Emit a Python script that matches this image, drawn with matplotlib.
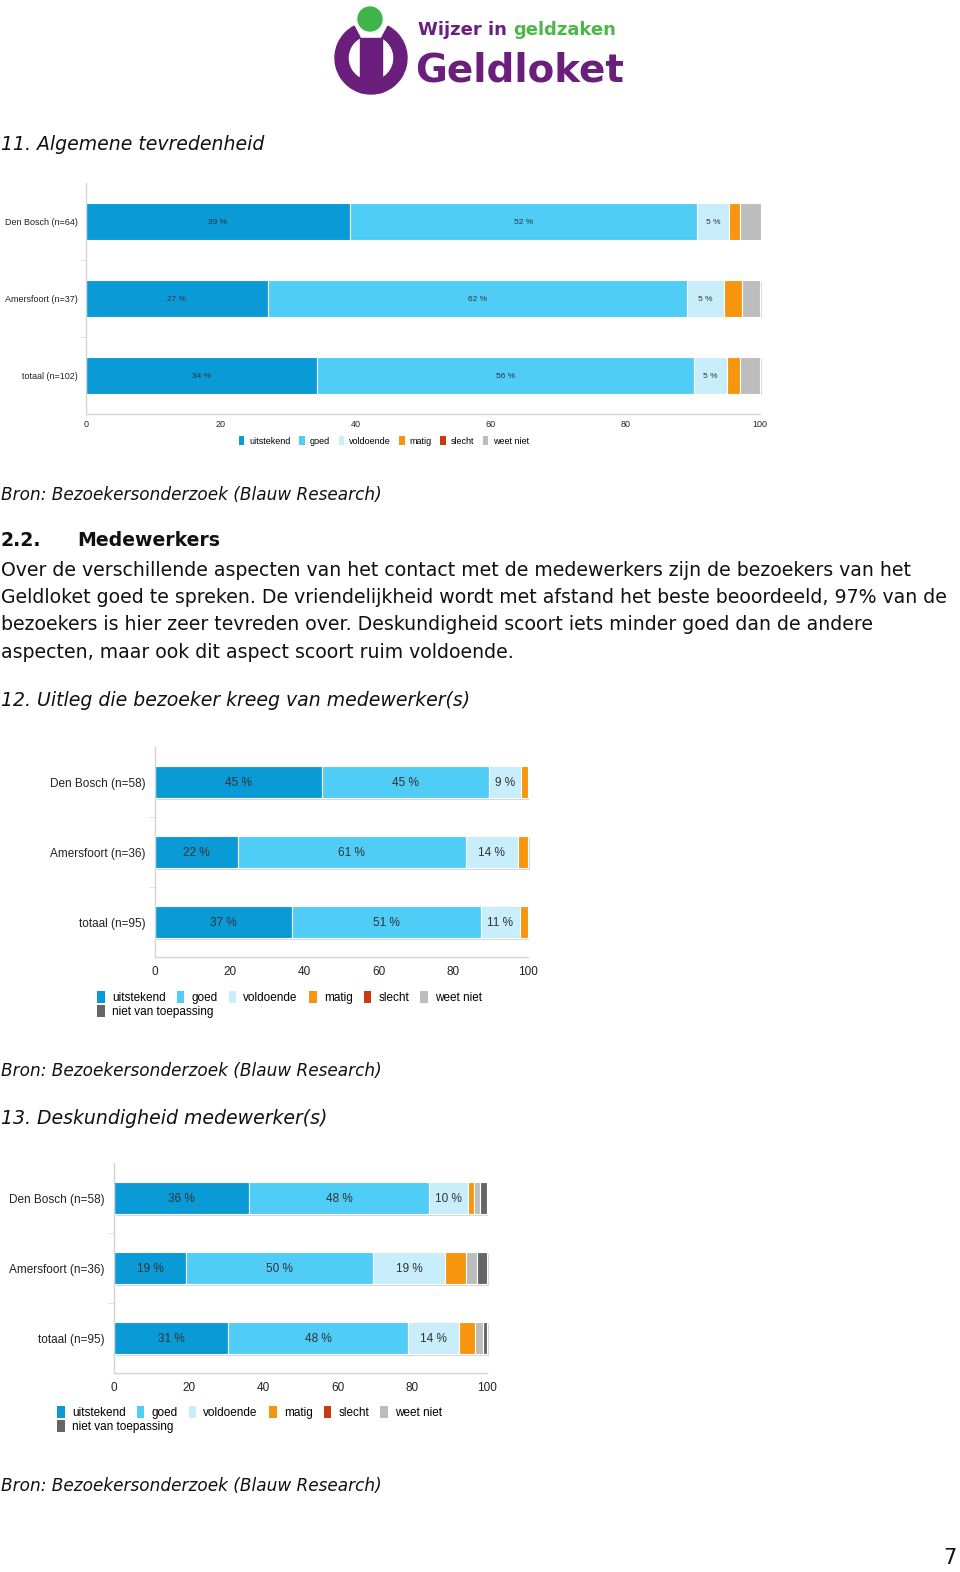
import numpy as np
import matplotlib
matplotlib.use("Agg")
import matplotlib.pyplot as plt
from matplotlib.patches import Patch, Wedge, Circle, Rectangle
import matplotlib.patheffects as pe

W, H = 960, 1572

# --- data -------------------------------------------------------------
legend_labels = ["uitstekend", "goed", "voldoende", "matig", "slecht", "weet niet",
                 "niet van toepassing"]
colors = ["#0a9ad6", "#4fcdf7", "#c8edfb", "#f7960e", "#c83a10", "#bdbdbd", "#666666"]

# 11. Algemene tevredenheid
cats1 = ["Den Bosch (n=64)", "Amersfoort (n=37)", "totaal (n=102)"]
ch1_uitstekend = [39.1, 27.0, 34.3]
ch1_goed = [51.6, 62.2, 55.9]
ch1_voldoende = [4.7, 5.4, 4.9]
ch1_matig = [1.6, 2.7, 2.0]
ch1_slecht = [0, 0, 0]
ch1_weetniet = [3.1, 2.7, 2.9]

# 12. Uitleg die bezoeker kreeg van medewerker(s)
cats2 = ["Den Bosch (n=58)", "Amersfoort (n=36)", "totaal (n=95)"]
ch2_uitstekend = [44.8, 22.2, 36.8]
ch2_goed = [44.8, 61.1, 50.5]
ch2_voldoende = [8.6, 13.9, 10.5]
ch2_matig = [1.7, 2.8, 2.1]
ch2_slecht = [0, 0, 0]
ch2_weetniet = [0, 0, 0]
ch2_nvt = [0, 0, 0]

# 13. Deskundigheid medewerker(s)
cats3 = ["Den Bosch (n=58)", "Amersfoort (n=36)", "totaal (n=95)"]
ch3_uitstekend = [36.2, 19.4, 30.5]
ch3_goed = [48.3, 50.0, 48.4]
ch3_voldoende = [10.3, 19.4, 13.7]
ch3_matig = [1.7, 5.6, 4.2]
ch3_slecht = [0, 0, 0]
ch3_weetniet = [1.7, 2.8, 2.1]
ch3_nvt = [1.7, 2.8, 1.1]

paragraph = [
    "Over de verschillende aspecten van het contact met de medewerkers zijn de bezoekers van het",
    "Geldloket goed te spreken. De vriendelijkheid wordt met afstand het beste beoordeeld, 97% van de",
    "bezoekers is hier zeer tevreden over. Deskundigheid scoort iets minder goed dan de andere",
    "aspecten, maar ook dit aspect scoort ruim voldoende.",
]

fig = plt.figure(figsize=(W / 100, H / 100), dpi=100)
fig.patch.set_facecolor("white")


def px_axes(x0, y0, x1, y1):
    return fig.add_axes([x0 / W, 1 - y1 / H, (x1 - x0) / W, (y1 - y0) / H])


def ftext(x, y, s, **kw):
    kw.setdefault("va", "center")
    kw.setdefault("color", "#111111")
    fig.text(x / W, 1 - y / H, s, **kw)


def stacked_chart(ax, cats, series, bar_h, lab_fs, tick_fs, ypad, xpad):
    y = np.arange(len(cats))
    left = np.zeros(len(cats))
    shadow = [pe.SimplePatchShadow(offset=(1.2, -1.2), shadow_rgbFace="#888888", alpha=0.35),
              pe.Normal()]
    for i, vals in enumerate(series):
        vals = np.array(vals, dtype=float)
        for yi, l, v in zip(y, left, vals):
            if v <= 0:
                continue
            b = ax.barh(yi, v, left=l, height=bar_h, color=colors[i],
                        edgecolor="white", linewidth=0.8, clip_on=False)
            b[0].set_path_effects(shadow)
            if i < 3:
                ax.text(l + v / 2, yi, f"{int(v + 0.5)} %", ha="center", va="center_baseline",
                        fontsize=lab_fs, color="#333333", family="Liberation Sans")
        left += vals
    ax.set_xlim(0, 100)
    ax.set_ylim(len(cats) - 0.5, -0.5)
    ax.set_yticks(y)
    ax.set_yticklabels(cats, family="Liberation Sans", fontsize=tick_fs, color="#222222")
    ax.set_yticks([0.5, 1.5], minor=True)
    ax.set_xticks(np.arange(0, 101, 20))
    ax.set_xticklabels([str(v) for v in range(0, 101, 20)], family="Liberation Sans",
                       fontsize=tick_fs, color="#222222")
    ax.tick_params(axis="y", which="major", length=0, pad=ypad)
    ax.tick_params(axis="y", which="minor", length=4, color="#dddddd")
    ax.tick_params(axis="x", length=0, pad=xpad)
    for s in ["top", "right"]:
        ax.spines[s].set_visible(False)
    for s in ["left", "bottom"]:
        ax.spines[s].set_color("#d4d4d4")
        ax.spines[s].set_linewidth(1.0)


def chart_legend(x, y, fs, ncol_gap):
    prop = {"family": "Liberation Sans", "size": fs}
    opts = dict(loc="upper left", frameon=False, prop=prop, handlelength=0.65,
                handleheight=1.2, columnspacing=ncol_gap, handletextpad=0.6, borderpad=0,
                borderaxespad=0)
    row1 = [Patch(facecolor=c, label=l) for c, l in zip(colors[:6], legend_labels[:6])]
    row2 = [Patch(facecolor=colors[6], label=legend_labels[6])]
    fig.legend(handles=row1, bbox_to_anchor=(x / W, 1 - y / H), ncol=6, **opts)
    fig.legend(handles=row2, bbox_to_anchor=(x / W, 1 - (y + 14) / H), ncol=1, **opts)


# --- logo -------------------------------------------------------------
lax = px_axes(330, 0, 630, 100)
lax.set_xlim(330, 630)
lax.set_ylim(100, 0)
lax.axis("off")
purple = "#6b1f7c"
lax.add_patch(Wedge((371, 58), 36, -62, 242, width=13, color=purple))
lax.add_patch(Rectangle((360, 38), 22, 54, color=purple))
lax.add_patch(Circle((370, 19), 12, color="#3fb449"))
lax.text(418, 30, "Wijzer in", fontsize=13, fontweight="bold", color=purple,
         va="center", ha="left")
lax.text(616, 30, "geldzaken", fontsize=13, fontweight="bold", color="#4cb848",
         va="center", ha="right")
lax.text(415, 70, "Geldloket", fontsize=28, fontweight="bold", color=purple,
         va="center", ha="left")

# --- texts ------------------------------------------------------------
body = dict(family="DejaVu Sans", fontsize=13.6)
bron = dict(family="DejaVu Sans", fontsize=12.2, style="italic")
ftext(1, 145, "11. Algemene tevredenheid", style="italic", **body)
ftext(1, 495, "Bron: Bezoekersonderzoek (Blauw Research)", **bron)
ftext(1, 541, "2.2.", fontweight="bold", **body)
ftext(77, 541, "Medewerkers", fontweight="bold", **body)
for k, line in enumerate(paragraph):
    ftext(1, 570 + k * 27.5, line, **body)
ftext(1, 701, "12. Uitleg die bezoeker kreeg van medewerker(s)", style="italic", **body)
ftext(1, 1071, "Bron: Bezoekersonderzoek (Blauw Research)", **bron)
ftext(1, 1119, "13. Deskundigheid medewerker(s)", style="italic", **body)
ftext(1, 1486, "Bron: Bezoekersonderzoek (Blauw Research)", **bron)
ftext(943, 1558, "7", family="DejaVu Sans", fontsize=15)

# --- chart 1 ----------------------------------------------------------
ax1 = px_axes(86, 183, 760, 414)
stacked_chart(ax1, cats1,
              [ch1_uitstekend, ch1_goed, ch1_voldoende, ch1_matig, ch1_slecht, ch1_weetniet],
              0.47, 6, 6.5, 6, 4.5)
h1 = [Patch(facecolor=c, label=l) for c, l in zip(colors[:6], legend_labels[:6])]
fig.legend(handles=h1, loc="center", bbox_to_anchor=(384 / W, 1 - 441 / H), ncol=6,
           frameon=False, prop={"family": "Liberation Sans", "size": 6.5},
           handlelength=0.6, handleheight=1.2, columnspacing=1.0, handletextpad=0.5)

# --- chart 2 ----------------------------------------------------------
ax2 = px_axes(155, 747, 528, 957)
stacked_chart(ax2, cats2,
              [ch2_uitstekend, ch2_goed, ch2_voldoende, ch2_matig, ch2_slecht, ch2_weetniet,
               ch2_nvt],
              0.47, 8.5, 8.5, 7, 6.5)
chart_legend(97, 991, 8.5, 0.95)

# --- chart 3 ----------------------------------------------------------
ax3 = px_axes(114, 1163, 487, 1373)
stacked_chart(ax3, cats3,
              [ch3_uitstekend, ch3_goed, ch3_voldoende, ch3_matig, ch3_slecht, ch3_weetniet,
               ch3_nvt],
              0.46, 8.5, 8.5, 7, 6.5)
chart_legend(57, 1406, 8.5, 0.95)

fig.savefig("out.png", dpi=100, facecolor="white")
